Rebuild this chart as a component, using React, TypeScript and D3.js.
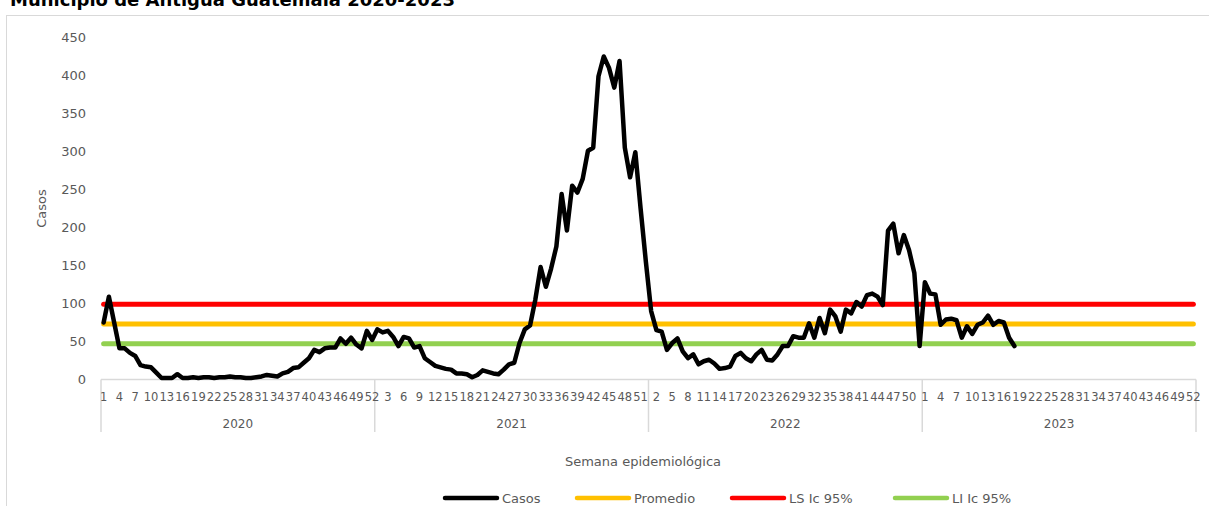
import * as d3 from "d3";

// weekly cases per epidemiological year (52 weeks shown per year)
const years = ["2020", "2021", "2022", "2023"];
const weeksPerYear = 52;

const casos2020 = [
  75, 109, 75, 41, 41, 35, 31, 19, 17, 16, 9, 2, 2, 2, 7, 2, 2, 3, 2, 3, 3, 2, 3, 3, 4, 3,
  3, 2, 2, 3, 4, 6, 5, 4, 8, 10, 15, 16, 22, 28, 39, 36, 41, 42, 42, 54, 47, 55, 46, 41, 64, 52,
];
const casos2021 = [
  66, 62, 64, 56, 44, 56, 54, 42, 44, 28, 23, 18, 16, 14, 13, 8, 8, 7, 3, 6, 12, 10, 8, 7, 13, 20,
  22, 48, 66, 71, 105, 148, 122, 146, 175, 244, 196, 255, 246, 264, 301, 305, 399, 425, 410, 384,
  419, 305, 266, 299, 225, 155,
];
const casos2022 = [
  90, 65, 63, 39, 48, 54, 37, 28, 33, 20, 24, 26, 21, 14, 15, 17, 31, 35, 28, 24, 33, 39, 26, 25,
  33, 44, 44, 57, 55, 55, 74, 55, 81, 61, 92, 83, 63, 92, 87, 102, 96, 111, 113, 109, 98, 196, 205,
  166, 190, 170, 140, 44,
];
const casos2023 = [128, 113, 112, 72, 79, 80, 78, 55, 70, 60, 72, 75, 84, 72, 77, 75, 55, 44];

const promedio = 73;
const lsIc95 = 99;
const liIc95 = 47;

const yTicks = [0, 50, 100, 150, 200, 250, 300, 350, 400, 450];

const W = 1209;
const H = 506;
const left = 101;
const right = 1196;
const top = 37.5;
const bottom = 379.5;
const textColor = "#595959";
const font = "'DejaVu Sans', Verdana, sans-serif";

export default function App() {
  const casos = [...casos2020, ...casos2021, ...casos2022, ...casos2023];
  const n = years.length * weeksPerYear;
  const idx = d3.range(n);

  const x = d3.scaleBand<number>().domain(idx).range([left, right]).padding(0);
  const cx = (i: number) => (x(i) as number) + x.bandwidth() / 2;
  const y = d3.scaleLinear().domain([0, 450]).range([bottom, top]);

  const line = d3
    .line<number>()
    .x((_, i) => cx(i))
    .y((d) => y(d));

  const flat = (v: number) => line(idx.map(() => v)) as string;

  const legend = [
    { label: "Casos", color: "#000000", x: 445 },
    { label: "Promedio", color: "#FFC000", x: 577 },
    { label: "LS Ic 95%", color: "#FF0000", x: 732 },
    { label: "LI Ic 95%", color: "#92D050", x: 895 },
  ];

  return (
    <svg
      width={W}
      height={H}
      style={{ position: "absolute", left: 0, top: 0, display: "block", background: "#fff" }}
      fontFamily={font}
    >
      <text x={10} y={6} fontSize={18} fontWeight="bold" fill="#000">
        Municipio de Antigua Guatemala 2020-2023
      </text>
      <rect x={6.5} y={15.5} width={1300} height={600} fill="none" stroke="#d9d9d9" />

      {/* y axis labels */}
      {yTicks.map((t) => (
        <text key={t} x={86} y={y(t)} dy="0.35em" textAnchor="end" fontSize={13} fill={textColor}>
          {t}
        </text>
      ))}
      <text
        transform={`translate(46, ${(top + bottom) / 2}) rotate(-90)`}
        textAnchor="middle"
        fontSize={13}
        fill={textColor}
      >
        Casos
      </text>

      {/* x axis */}
      <line x1={left} x2={right} y1={bottom} y2={bottom} stroke="#d9d9d9" strokeWidth={1.5} />
      {d3.range(years.length + 1).map((k) => {
        const xx = k < years.length ? (x(k * weeksPerYear) as number) : right;
        return (
          <line key={k} x1={xx} x2={xx} y1={bottom} y2={432} stroke="#d9d9d9" strokeWidth={1.5} />
        );
      })}
      {idx
        .filter((i) => i % 3 === 0)
        .map((i) => (
          <text key={i} x={cx(i)} y={401} textAnchor="middle" fontSize={11.5} fill={textColor}>
            {(i % weeksPerYear) + 1}
          </text>
        ))}
      {years.map((yr, k) => (
        <text
          key={yr}
          x={(x(k * weeksPerYear) as number) + (x.bandwidth() * weeksPerYear) / 2}
          y={428}
          textAnchor="middle"
          fontSize={12}
          fill={textColor}
        >
          {yr}
        </text>
      ))}
      <text x={643} y={466} textAnchor="middle" fontSize={13} fill={textColor}>
        Semana epidemiológica
      </text>

      {/* series */}
      <path d={flat(lsIc95)} fill="none" stroke="#FF0000" strokeWidth={5} strokeLinecap="round" />
      <path d={flat(promedio)} fill="none" stroke="#FFC000" strokeWidth={5} strokeLinecap="round" />
      <path d={flat(liIc95)} fill="none" stroke="#92D050" strokeWidth={5} strokeLinecap="round" />
      <path
        d={line(casos) as string}
        fill="none"
        stroke="#000"
        strokeWidth={4.5}
        strokeLinejoin="round"
        strokeLinecap="round"
      />

      {/* legend */}
      {legend.map((l) => (
        <g key={l.label}>
          <line x1={l.x} x2={l.x + 52} y1={498} y2={498} stroke={l.color} strokeWidth={4.5} strokeLinecap="round" />
          <text x={l.x + 57} y={502.5} fontSize={13} fill={textColor}>
            {l.label}
          </text>
        </g>
      ))}
    </svg>
  );
}
